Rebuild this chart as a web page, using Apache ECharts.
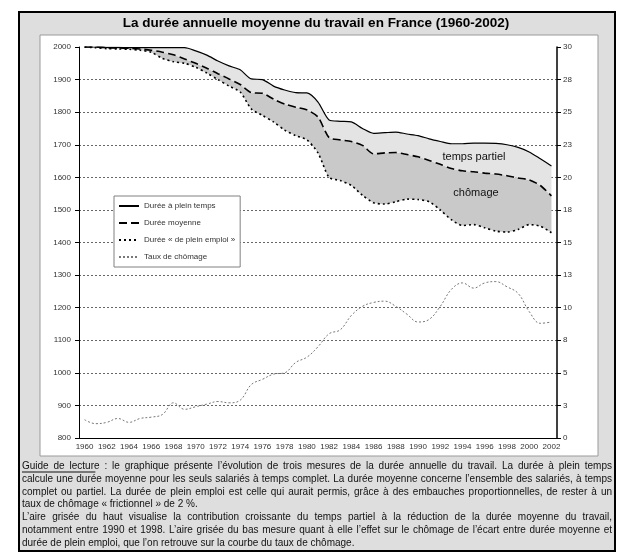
<!DOCTYPE html>
<html><head><meta charset="utf-8">
<script src="https://cdn.jsdelivr.net/npm/echarts@6/dist/echarts.min.js"></script>
<style>html,body{margin:0;padding:0;background:#fff}#c{width:632px;height:557px}</style>
</head><body><div id="c"></div>
<script>
const years = ['1960','1961','1962','1963','1964','1965','1966','1967','1968','1969','1970','1971','1972','1973','1974','1975','1976','1977','1978','1979','1980','1981','1982','1983','1984','1985','1986','1987','1988','1989','1990','1991','1992','1993','1994','1995','1996','1997','1998','1999','2000','2001','2002'];
const pleinTemps = [2000,2000,1999,1999,1998,1998,1998,1998,1998,1998,1988,1975,1957,1942,1930,1902,1900,1880,1868,1860,1859,1831,1776,1772,1770,1750,1735,1737,1739,1733,1728,1718,1710,1703,1703,1705,1705,1704,1700,1692,1678,1657,1635];
const dureeMoyenne = [2000,2000,1998,1997,1996,1994,1990,1984,1976,1963,1950,1935,1918,1902,1885,1860,1858,1840,1825,1815,1807,1785,1722,1715,1710,1698,1672,1675,1676,1670,1663,1652,1640,1627,1620,1617,1613,1610,1605,1598,1592,1575,1543];
const pleinEmploi = [2000,1998,1995,1994,1993,1990,1984,1965,1955,1950,1938,1920,1900,1880,1862,1810,1790,1770,1745,1728,1715,1675,1600,1590,1575,1545,1522,1518,1525,1533,1532,1525,1500,1470,1452,1455,1445,1435,1432,1440,1455,1450,1430];
const tauxChomage = [1.4,1.1,1.2,1.5,1.2,1.5,1.6,1.8,2.7,2.2,2.4,2.6,2.8,2.7,2.9,4.1,4.5,4.9,5.0,5.8,6.2,7.0,8.0,8.3,9.4,10.1,10.4,10.5,10.1,9.5,8.9,9.1,10.1,11.4,11.9,11.5,11.9,12.0,11.6,11.1,9.7,8.8,8.9];
const seriesNames = ['Durée à plein temps','Durée moyenne','Durée « de plein emploi »','Taux de chômage'];
const titleText = 'La durée annuelle moyenne du travail en France (1960-2002)';
const areaLabels = ['temps partiel','chômage'];
const captionLines = [
 'Guide de lecture : le graphique présente l’évolution de trois mesures de la durée annuelle du travail. La durée à plein temps',
 'calcule une durée moyenne pour les seuls salariés à temps complet. La durée moyenne concerne l’ensemble des salariés, à temps',
 'complet ou partiel. La durée de plein emploi est celle qui aurait permis, grâce à des embauches proportionnelles, de rester à un',
 'taux de chômage « frictionnel » de 2 %.',
 'L’aire grisée du haut visualise la contribution croissante du temps partiel à la réduction de la durée moyenne du travail,',
 'notamment entre 1990 et 1998. L’aire grisée du bas mesure quant à elle l’effet sur le chômage de l’écart entre durée moyenne et',
 'durée de plein emploi, que l’on retrouve sur la courbe du taux de chômage.'
];
const justified = [true,true,true,false,true,true,false];

const diff = (a,b)=>a.map((v,i)=>+(v-b[i]).toFixed(2));
const SM = 0.25;

const FAM = '"Liberation Sans", Arial, sans-serif';
const ctx = document.createElement('canvas').getContext('2d');
const CX0 = 22, CW = 590, CY0 = 466, CLH = 12.9;
let fs = 11.5;
function maxW(size){ctx.font = size+'px '+FAM; return Math.max(...captionLines.map(l=>ctx.measureText(l).width));}
while (fs > 8 && maxW(fs) > CW - 4) fs -= 0.25;
ctx.font = fs+'px '+FAM;
const capEls = [];
captionLines.forEach((line,i)=>{
  const y = CY0 + i*CLH;
  if (!justified[i]) {
    capEls.push({type:'text', x:CX0, y:y, style:{text:line, font:fs+'px '+FAM, fill:'#111', textVerticalAlign:'middle'}, z:5});
  } else {
    const words = line.split(' ');
    const ws = words.map(w=>ctx.measureText(w).width);
    const tot = ws.reduce((a,b)=>a+b,0);
    const gap = (CW - tot)/(words.length-1);
    let x = CX0;
    words.forEach((w,k)=>{
      capEls.push({type:'text', x:x, y:y, style:{text:w, font:fs+'px '+FAM, fill:'#111', textVerticalAlign:'middle'}, z:5});
      x += ws[k] + gap;
    });
  }
});
const ulW = ctx.measureText('Guide de lecture').width;
capEls.push({type:'line', shape:{x1:CX0, y1:CY0+6, x2:CX0+ulW, y2:CY0+6}, style:{stroke:'#111', lineWidth:1}, z:5});

const chart = echarts.init(document.getElementById('c'));
const lineBase = {type:'line', symbol:'none', smooth:SM, yAxisIndex:0};
const option = {
  animation:false,
  backgroundColor:'#fff',
  textStyle:{fontFamily:FAM},
  grid:{left:79, right:75, top:47, bottom:119, containLabel:false},
  legend:{
    data:seriesNames, orient:'vertical', left:114, top:196,
    backgroundColor:'#fff', borderColor:'#808080', borderWidth:1,
    padding:[6,5,6,4], itemWidth:20, itemHeight:10, itemGap:9,
    itemStyle:{opacity:0},
    textStyle:{fontSize:8, color:'#333', fontFamily:FAM}, z:10
  },
  xAxis:{type:'category', data:years, boundaryGap:true,
    axisLine:{lineStyle:{color:'#000', width:1}},
    axisTick:{interval:0, length:3, lineStyle:{color:'#000'}},
    axisLabel:{interval:1, fontSize:8, color:'#333', margin:5},
    splitLine:{show:false}},
  yAxis:[
    {type:'value', min:800, max:2000, interval:100,
     axisLine:{show:true, lineStyle:{color:'#000'}},
     axisTick:{show:true, length:4, lineStyle:{color:'#000'}},
     axisLabel:{fontSize:8, color:'#333', margin:8, formatter:v=>String(v)},
     splitLine:{show:true, showMaxLine:false, showMinLine:false, lineStyle:{color:'#666', type:[2,2], width:1}}},
    {type:'value', min:0, max:30, interval:2.5, position:'right',
     axisLine:{show:true, lineStyle:{color:'#000', width:1.5}},
     axisTick:{show:true, length:4, lineStyle:{color:'#000'}},
     axisLabel:{fontSize:8, color:'#333', margin:6, formatter:v=>String(Math.round(v))},
     splitLine:{show:false}}
  ],
  series:[
    Object.assign({}, lineBase, {name:'_base', data:pleinEmploi, stack:'s', lineStyle:{opacity:0}, silent:true, z:1}),
    Object.assign({}, lineBase, {name:'_chom', data:diff(dureeMoyenne,pleinEmploi), stack:'s', lineStyle:{opacity:0}, areaStyle:{color:'#c9c9c9', opacity:1}, silent:true, z:1}),
    Object.assign({}, lineBase, {name:'_part', data:diff(pleinTemps,dureeMoyenne), stack:'s', lineStyle:{opacity:0}, areaStyle:{color:'#e4e4e4', opacity:1}, silent:true, z:1}),
    Object.assign({}, lineBase, {name:seriesNames[0], data:pleinTemps, lineStyle:{color:'#000', width:1.2, type:'solid'}, itemStyle:{color:'#000'}, z:3}),
    Object.assign({}, lineBase, {name:seriesNames[1], data:dureeMoyenne, lineStyle:{color:'#000', width:1.6, type:[8,4]}, itemStyle:{color:'#000'}, z:3}),
    Object.assign({}, lineBase, {name:seriesNames[2], data:pleinEmploi, lineStyle:{color:'#000', width:1.6, type:[2,3]}, itemStyle:{color:'#000'}, z:3}),
    {type:'line', name:seriesNames[3], data:tauxChomage, yAxisIndex:1, symbol:'none', smooth:0.4,
     lineStyle:{color:'#777', width:1, type:[2,2]}, itemStyle:{color:'#777'}, z:3}
  ],
  graphic:[
    {type:'rect', shape:{x:19, y:12, width:596, height:539}, style:{fill:'#dedede', stroke:'#000', lineWidth:2}, z:-10, silent:true},
    {type:'rect', shape:{x:40, y:35, width:558, height:421}, style:{fill:'#fff', stroke:'#9a9a9a', lineWidth:1}, z:-9, silent:true},
    {type:'text', x:316, y:23, style:{text:titleText, font:'bold 13.5px '+FAM, fill:'#000', textAlign:'center', textVerticalAlign:'middle'}, z:5},
    {type:'text', x:474, y:157, style:{text:areaLabels[0], font:'11px '+FAM, fill:'#111', textAlign:'center', textVerticalAlign:'middle'}, z:5},
    {type:'text', x:476, y:193, style:{text:areaLabels[1], font:'11px '+FAM, fill:'#111', textAlign:'center', textVerticalAlign:'middle'}, z:5}
  ].concat(capEls)
};
chart.setOption(option);
</script></body></html>
